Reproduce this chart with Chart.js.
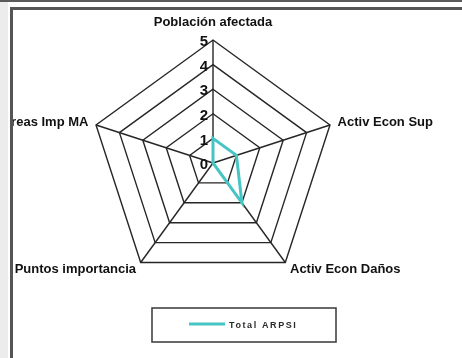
<!DOCTYPE html>
<html>
<head>
<meta charset="utf-8">
<script src="https://cdn.jsdelivr.net/npm/chart.js@4.4.1/dist/chart.umd.min.js"></script>
<style>
    html, body {
        margin: 0;
        padding: 0;
        width: 462px;
        height: 358px;
        overflow: hidden;
        background: #fff;
    }
    .top-rule {
        position: absolute;
        left: 0;
        top: 0;
        width: 462px;
        height: 2px;
        background: #5a5a5a;
    }
    .side-band {
        position: absolute;
        left: 0;
        top: 2px;
        width: 8px;
        height: 356px;
        background: #ececec;
    }
    .frame {
        position: absolute;
        left: 10px;
        top: 7px;
        width: 452px;
        height: 351px;
        border-left: 3px solid #555;
        border-top: 3px solid #555;
        overflow: hidden;
    }
    #radar {
        position: absolute;
        left: -50px;
        top: 0;
    }
</style>
</head>
<body>
<div class="top-rule"></div>
<div class="side-band"></div>
<div class="frame">
    <canvas id="radar" width="500" height="348"></canvas>
</div>
<script>
const categories = [
    "Población afectada",
    "Activ Econ Sup",
    "Activ Econ Daños",
    "Puntos importancia",
    "Áreas Imp MA",
];
const totalArpsi = [1, 1, 2, 0, 0];
const tickValues = [0, 1, 2, 3, 4, 5];

const TEAL = "#47c4c4";
const GRID = "#262626";

// Numbers sit just left of the vertical spoke, slightly under each ring
const tickLabels = {
    id: "tickLabels",
    afterDraw(chart) {
        const scale = chart.scales.r;
        const ctx = chart.ctx;
        ctx.save();
        ctx.font = "bold 15px 'Liberation Sans', Arial, sans-serif";
        ctx.fillStyle = "#111";
        ctx.textAlign = "right";
        ctx.textBaseline = "middle";
        tickValues.forEach((v) => {
            const y = scale.yCenter - scale.getDistanceFromCenterForValue(v) + 2;
            ctx.fillText(String(v), scale.xCenter - 5, y);
        });
        ctx.restore();
    },
};

// Boxed legend under the radar
const boxedLegend = {
    id: "boxedLegend",
    afterDraw(chart, args, opts) {
        const ctx = chart.ctx;
        const ds = chart.data.datasets[0];
        ctx.save();
        ctx.strokeStyle = "#444";
        ctx.lineWidth = 1.6;
        ctx.strokeRect(opts.x, opts.y, opts.width, opts.height);

        const midY = opts.y + opts.height / 2;
        ctx.strokeStyle = ds.borderColor;
        ctx.lineWidth = 3;
        ctx.beginPath();
        ctx.moveTo(opts.x + 37, midY - 1);
        ctx.lineTo(opts.x + 73, midY - 1);
        ctx.stroke();

        ctx.fillStyle = "#2a2a2a";
        ctx.font = "bold 9px 'Liberation Sans', Arial, sans-serif";
        ctx.letterSpacing = "1.6px";
        ctx.textAlign = "left";
        ctx.textBaseline = "middle";
        ctx.fillText(ds.label, opts.x + 77, midY + 1);
        ctx.restore();
    },
};

new Chart(document.getElementById("radar"), {
    type: "radar",
    data: {
        labels: categories,
        datasets: [
            {
                label: "Total ARPSI",
                data: totalArpsi,
                borderColor: TEAL,
                borderWidth: 3,
                backgroundColor: "transparent",
                fill: false,
                pointRadius: 0,
                tension: 0,
            },
        ],
    },
    options: {
        responsive: false,
        animation: false,
        layout: {
            padding: { left: 0, right: 0, top: 3, bottom: 63 },
        },
        plugins: {
            legend: { display: false },
            tooltip: { enabled: false },
            boxedLegend: { x: 189, y: 298, width: 184, height: 34 },
        },
        scales: {
            r: {
                min: 0,
                max: 5,
                ticks: {
                    stepSize: 1,
                    display: false,
                },
                grid: {
                    color: GRID,
                    lineWidth: 1.4,
                },
                angleLines: {
                    color: GRID,
                    lineWidth: 1.4,
                },
                pointLabels: {
                    color: "#111",
                    // top label floats higher above its vertex
                    padding: (ctx) => (ctx.index === 0 ? 18 : 8),
                    font: {
                        family: "'Liberation Sans', Arial, sans-serif",
                        size: 13,
                        weight: "bold",
                        lineHeight: 0,
                    },
                },
            },
        },
    },
    plugins: [tickLabels, boxedLegend],
});
</script>
</body>
</html>
